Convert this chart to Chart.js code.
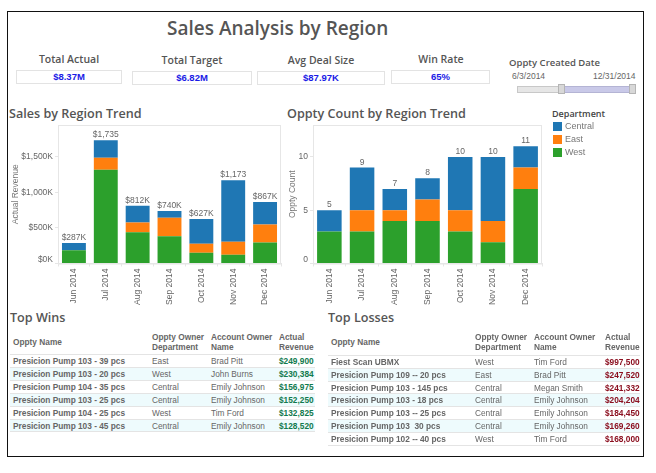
<!DOCTYPE html>
<html><head><meta charset="utf-8">
<script src="https://cdn.jsdelivr.net/npm/chart.js@4"></script>
<style>
html,body{margin:0;padding:0;background:#fff;width:656px;height:473px;overflow:hidden}
#page{position:relative;width:656px;height:473px;font-family:"Liberation Sans",Arial,sans-serif;color:#666}
.a{position:absolute;white-space:nowrap}
.h{font-family:"Open Sans",sans-serif;font-weight:600;color:#555}
canvas{position:absolute}
.kpi{position:absolute;border:1px solid #e3e3e3;box-sizing:border-box;text-align:center;color:#1a1ae6;font:bold 9.5px/12px "Liberation Sans",sans-serif}
.band{position:absolute;background:#eefbfd}
.rule{position:absolute;height:1px;background:#e4e4e4}
</style></head><body><div id="page">
<div class="a" style="left:7px;top:11px;width:635px;height:444px;border:1.5px solid #111"></div>
<div class="a h" id="title" style="left:167px;top:15px;width:189px;text-align:center;font-size:19px;line-height:26px;color:#555">Sales Analysis by Region</div>
<div class="a h" style="left:9px;top:105px;font-size:12.6px;line-height:17px">Sales by Region Trend</div>
<div class="a h" style="left:287px;top:105px;font-size:12.6px;line-height:17px">Oppty Count by Region Trend</div>
<div class="a h" style="left:10px;top:309px;font-size:12.6px;line-height:17px">Top Wins</div>
<div class="a h" style="left:328px;top:309px;font-size:12.6px;line-height:17px">Top Losses</div>
<div class="a h" style="left:509px;top:56px;font-size:9.5px;line-height:13px">Oppty Created Date</div>
<div class="a" style="left:512px;top:71px;font-size:8.5px;line-height:10px">6/3/2014</div>
<div class="a" style="left:593px;top:71px;width:40px;text-align:right;font-size:8.5px;line-height:10px">12/31/2014</div>
<div class="a" style="left:517px;top:86px;width:45px;height:5px;background:#e6e6e6;border:1px solid #c8c8c8"></div>
<div class="a" style="left:563px;top:86px;width:70px;height:5px;background:#c9c9e8;border:1px solid #b4b4d4"></div>
<div class="a" style="left:558px;top:84px;width:5px;height:8px;background:#d8d8d8;border:1px solid #b5b5b5"></div>
<div class="a" style="left:629px;top:84px;width:5px;height:8px;background:#d8d8d8;border:1px solid #b5b5b5"></div>
<div class="a h" style="left:552px;top:107px;font-size:9px;line-height:13px;color:#444">Department</div>
<canvas id="salesChart" width="278" height="190" style="left:8px;top:120px"></canvas>
<canvas id="countChart" width="264" height="190" style="left:283px;top:120px"></canvas>
</div>
<script>
const months = ["Jun 2014","Jul 2014","Aug 2014","Sep 2014","Oct 2014","Nov 2014","Dec 2014"];
const departments = ["Central","East","West"];
const deptColors = ["#1f77b4","#ff7f0e","#2ca02c"];

const salesWest = [188,1319,441,385,150,122,296];
const salesEast = [0,169,136,258,127,183,253];
const salesCentral = [99,247,235,97,350,868,318];
const salesLabels = ["$287K","$1,735","$812K","$740K","$627K","$1,173","$867K"];
const salesTicks = [0,500,1000,1500];

const countWest = [3,3,4,4,3,2,7];
const countEast = [0,2,1,2,2,2,2];
const countCentral = [2,4,2,2,5,6,2];
const countLabels = ["5","9","7","8","10","10","11"];
const countTicks = [0,5,10];

const kpiNames = ["Total Actual","Total Target","Avg Deal Size","Win Rate"];
const kpiValues = ["$8.37M","$6.82M","$87.97K","65%"];

const tableHeaders = [["Oppty Name"],["Oppty Owner","Department"],["Account Owner","Name"],["Actual","Revenue"]];
const winRows = [
 ["Presicion Pump 103 - 39 pcs","East","Brad Pitt","$249,900"],
 ["Presicion Pump 103 - 20 pcs","West","John Burns","$230,384"],
 ["Presicion Pump 104 - 35 pcs","Central","Emily Johnson","$156,975"],
 ["Presicion Pump 103 - 25 pcs","Central","Emily Johnson","$152,250"],
 ["Presicion Pump 104 - 25 pcs","West","Tim Ford","$132,825"],
 ["Presicion Pump 103 - 45 pcs","Central","Emily Johnson","$128,520"]];
const lossRows = [
 ["Fiest Scan UBMX","West","Tim Ford","$997,500"],
 ["Presicion Pump 109 -- 20 pcs","East","Brad Pitt","$247,520"],
 ["Presicion Pump 103 - 145 pcs","Central","Megan Smith","$241,332"],
 ["Presicion Pump 103 - 18 pcs","Central","Emily Johnson","$204,204"],
 ["Presicion Pump 103 -- 25 pcs","Central","Emily Johnson","$184,450"],
 ["Presicion Pump 103  30 pcs","Central","Emily Johnson","$169,260"],
 ["Presicion Pump 102 -- 40 pcs","West","Tim Ford","$168,000"]];

const page = document.getElementById("page");
function el(cls, css, text){
  const d = document.createElement("div");
  d.className = cls; d.style.cssText = css;
  if(text !== undefined) d.textContent = text;
  page.appendChild(d); return d;
}
// KPI tiles
const kpiBoxes = [[16,70,106,14,69,52],[132,71,120,14,192,53],[257,71,128,14,321,53],[391,70,99,14,441,52]];
kpiNames.forEach((n,i)=>{
  const b = kpiBoxes[i];
  el("a h",`left:${b[4]-60}px;top:${b[5]}px;width:120px;text-align:center;font-size:10.5px;line-height:14px`,n);
  el("kpi",`left:${b[0]}px;top:${b[1]}px;width:${b[2]}px;height:${b[3]}px`,kpiValues[i]);
});
// Legend
departments.forEach((d,i)=>{
  const y = 122+i*13;
  el("a",`left:553px;top:${y}px;width:9px;height:9px;background:${deptColors[i]}`);
  el("a",`left:565px;top:${y-1}px;font-size:9px;line-height:11px;color:#777`,d);
});
// Tables
function table(rows,o){
  const t = "font-size:8.3px;line-height:10px;";
  tableHeaders.forEach((h,c)=>{
    if(h.length===1) el("a",`left:${o.x[c]}px;top:337px;${t}font-weight:bold`,h[0]);
    else h.forEach((s,j)=>el("a",`left:${o.x[c]}px;top:${332+j*9.5}px;${t}font-weight:bold`,s));
  });
  el("rule",`left:${o.l}px;top:${o.y0-1}px;width:${o.w}px`);
  rows.forEach((r,i)=>{
    const top = o.y0 + i*o.h;
    if(i%2===1) el("band",`left:${o.l}px;top:${top}px;width:${o.w}px;height:${o.h}px`);
    el("rule",`left:${o.l}px;top:${top+o.h-1}px;width:${o.w}px`);
    r.forEach((s,c)=>{
      const st = c===0 ? "font-weight:bold;color:#666;white-space:pre;" :
                 c===3 ? `font-weight:bold;color:${o.rev};` : "";
      el("a",`left:${o.x[c]}px;top:${top+1}px;${t}${st}`,s);
    });
  });
}
table(winRows,{x:[13,152,211,279],l:10,w:305,y0:355,h:12.9,rev:"#127a4e"});
table(lossRows,{x:[331,475,534,605],l:328,w:312,y0:356,h:12.8,rev:"#8c1020"});

// Charts
const totalsPlugin = {
  id:"totals",
  beforeDraw(chart){
    // the zero label sits just above the baseline tick
    const s = chart.scales.y;
    const items = s.getLabelItems(chart.chartArea);
    if(items.length) items[0].options.translation[1] -= 4;
  },
  afterDatasetsDraw(chart,args,opts){
    const {ctx,scales:{x,y}} = chart;
    ctx.save();
    ctx.font = '8.5px "Liberation Sans"'; ctx.fillStyle="#666";
    ctx.textAlign="center"; ctx.textBaseline="bottom";
    opts.labels.forEach((l,i)=>{
      const sum = chart.data.datasets.reduce((a,d)=>a+d.data[i],0);
      ctx.fillText(l,x.getPixelForValue(i),y.getPixelForValue(sum)-1);
    });
    ctx.restore();
  }
};
const framePlugin = {
  id:"frame",
  beforeDatasetsDraw(chart){
    const {ctx,chartArea:a} = chart;
    ctx.save(); ctx.strokeStyle="#e6e6e6"; ctx.lineWidth=1;
    ctx.strokeRect(a.left+.5,a.top+.5,a.right-a.left-1,a.bottom-a.top);
    ctx.restore();
  }
};
function makeChart(id,west,east,central,labels,ticks,max,yTitle,fmt,yw,rightPad,titlePad){
  const mk = (i,data)=>({label:departments[i],data,backgroundColor:deptColors[i],borderWidth:0,barPercentage:.75,categoryPercentage:1});
  return new Chart(document.getElementById(id),{
    type:"bar",
    data:{labels:months,datasets:[mk(2,west),mk(1,east),mk(0,central)]},
    plugins:[totalsPlugin,framePlugin],
    options:{
      responsive:false,animation:false,
      layout:{padding:{top:5,right:rightPad,left:0,bottom:0}},
      plugins:{legend:{display:false},tooltip:{enabled:false},totals:{labels}},
      scales:{
        x:{stacked:true,
          grid:{drawOnChartArea:false,tickLength:3,color:"#e6e6e6"},border:{color:"#e6e6e6"},
          ticks:{minRotation:90,maxRotation:90,padding:2,color:"#666",font:{size:8.5,family:"Liberation Sans"}},
          afterFit(s){s.height=46.5;s.paddingLeft=0;s.paddingRight=0}},
        y:{stacked:true,min:0,max,
          grid:{drawOnChartArea:false,tickLength:3,color:"#e6e6e6"},border:{color:"#e6e6e6"},
          title:{display:true,text:yTitle,color:"#777",padding:{top:titlePad,bottom:0},font:{size:8.5,family:"Liberation Sans"}},
          ticks:{padding:2,color:"#666",font:{size:8.5,family:"Liberation Sans"},callback:fmt},
          afterBuildTicks(s){s.ticks=ticks.map(v=>({value:v}))},
          afterFit(s){s.width=yw;s.paddingTop=0;s.paddingBottom=0}}
      }
    }
  });
}
makeChart("salesChart",salesWest,salesEast,salesCentral,salesLabels,salesTicks,1950,"Actual Revenue",
  v=>"$"+v.toLocaleString("en-US")+"K",50,5,3);
makeChart("countChart",countWest,countEast,countCentral,countLabels,countTicks,13,"Oppty Count",
  v=>String(v),30,5,5);
</script></body></html>
